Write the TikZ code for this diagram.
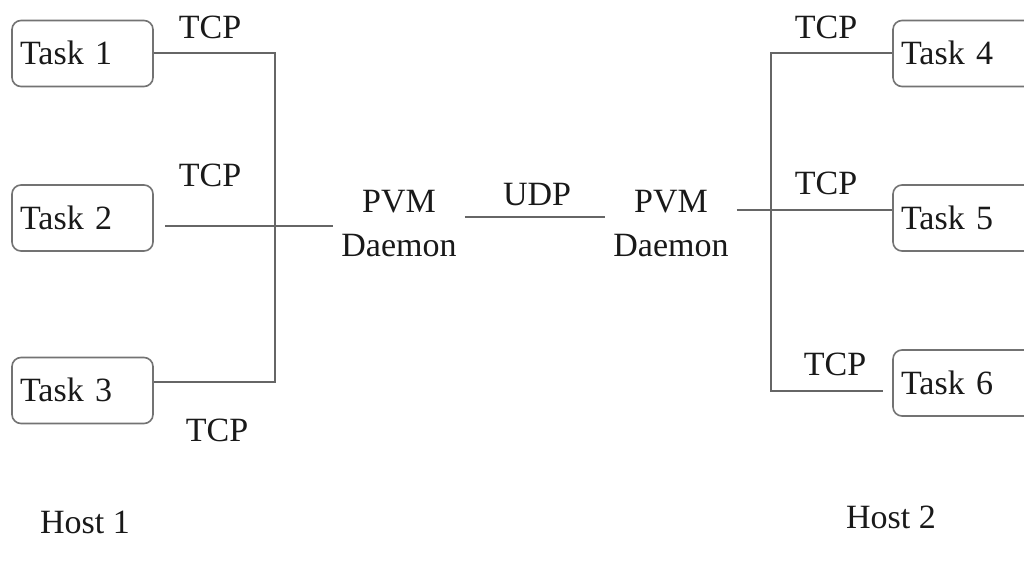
\documentclass[tikz,border=0pt]{standalone}
\usepackage{fontspec}
\setmainfont{Liberation Serif}
\begin{document}
\begin{tikzpicture}[x=1pt,y=-1pt,
  lbl/.style={font=\fontsize{34}{44}\selectfont, text=black!90, inner sep=0pt},
  taskbox/.style={draw=black!55, line width=1.6pt, rounded corners=9pt,
    font=\fontsize{34}{44}\selectfont, text=black!90, text width=125pt, align=left,
    inner xsep=8pt, inner ysep=0pt, text height=44pt, text depth=22pt},
  daemon/.style={font=\fontsize{34}{44}\selectfont, text=black!90, align=center, inner xsep=8pt},
  wire/.style={draw=black!60, line width=1.6pt}]
\clip (0,0) rectangle (1024,567);
\fill[white] (0,0) rectangle (1024,567);
% tasks host 1
\node[taskbox] (t1) at (82.5,53.5) {Task 1};
\node[taskbox] (t2) at (82.5,218) {Task 2};
\node[taskbox] (t3) at (82.5,390.5) {Task 3};
% tasks host 2
\node[taskbox, text width=140pt] (t4) at (971,53.5) {Task 4};
\node[taskbox, text width=140pt] (t5) at (971,218) {Task 5};
\node[taskbox, text width=140pt] (t6) at (971,383) {Task 6};
% daemons
\node[daemon] (p1) at (399,224) {PVM\\Daemon};
\node[daemon] (p2) at (671,224) {PVM\\Daemon};
% labels
\node[lbl] (c1) at (210,27) {TCP};
\node[lbl] (c2) at (210,175) {TCP};
\node[lbl] (c3) at (217,430) {TCP};
\node[lbl] (c4) at (826,27) {TCP};
\node[lbl] (c5) at (826,183) {TCP};
\node[lbl] (c6) at (835,364) {TCP};
\node[lbl] (udp) at (537,195) {UDP};
\node[lbl] (h1) at (85,522) {Host 1};
\node[lbl] (h2) at (891,517) {Host 2};
% coordinates
\coordinate (a1) at (275,53);
\coordinate (a3) at (275,382);
\coordinate (s2) at (165,226);
\coordinate (yu) at (0,217);
\coordinate (y5) at (0,210);
\coordinate (b4) at (771,53);
\coordinate (b6) at (771,391);
\coordinate (e6) at (883,391);
% wires host 1
\draw[wire] (t1.east |- a1) -- (a1) -- (a3) -- (t3.east |- a3);
\draw[wire] (s2) -- (p1.west |- s2);
% udp
\draw[wire] (p1.east |- yu) -- (p2.west |- yu);
% wires host 2
\draw[wire] (p2.east |- y5) -- (t5.west |- y5);
\draw[wire] (t4.west |- b4) -- (b4) -- (b6) -- (e6);
\end{tikzpicture}
\end{document}
